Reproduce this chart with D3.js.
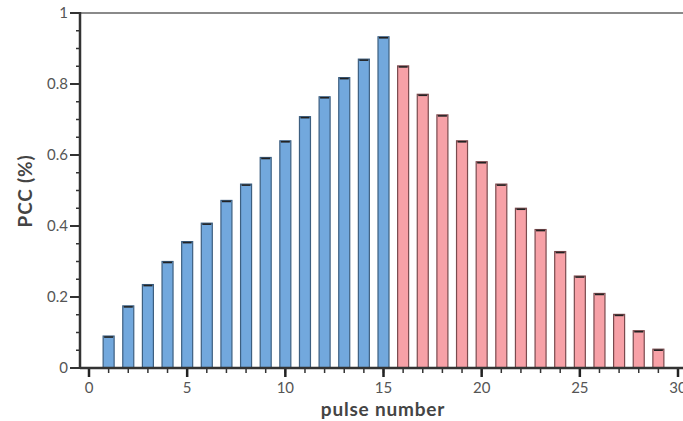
<!DOCTYPE html>
<html>
<head>
<meta charset="utf-8">
<script src="https://cdn.jsdelivr.net/npm/d3@7"></script>
<style>
  body { margin: 0; background: #fff; }
  svg text { font-family: "Lato", "DejaVu Sans", sans-serif; }
</style>
</head>
<body>
<svg id="chart" width="683" height="421"></svg>
<script>
// pulse numbers 1..29 and measured PCC
var pulses = [1, 2, 3, 4, 5, 6, 7, 8, 9, 10, 11, 12, 13, 14, 15,
              16, 17, 18, 19, 20, 21, 22, 23, 24, 25, 26, 27, 28, 29];
var pcc = [0.09, 0.175, 0.235, 0.30, 0.356, 0.408, 0.472, 0.518, 0.593, 0.64,
           0.708, 0.764, 0.818, 0.87, 0.933,
           0.851, 0.771, 0.713, 0.64, 0.581, 0.518, 0.45, 0.39, 0.328, 0.259,
           0.21, 0.151, 0.105, 0.053];
var phase = ["up", "up", "up", "up", "up", "up", "up", "up", "up", "up", "up", "up", "up", "up", "up",
             "down", "down", "down", "down", "down", "down", "down", "down", "down", "down",
             "down", "down", "down", "down"];
var xTicks = [0, 5, 10, 15, 20, 25, 30];
var yTicks = [0, 0.2, 0.4, 0.6, 0.8, 1];

var svg = d3.select('#chart');
var plotLeft = 80, plotRight = 683, plotTop = 13, plotBottom = 368;

var xScale = d3.scaleLinear().domain([0, 30]).range([89, 678]);
var yScale = d3.scaleLinear().domain([0, 1]).range([plotBottom, plotTop]);

var fillColor = {up: '#72a8dd', down: '#f7a1a7'};
var strokeColor = {up: '#3d5f80', down: '#7a4a4e'};
var barW = 11;

// frame: top line
svg.append('line')
    .attr('x1', plotLeft).attr('x2', plotRight)
    .attr('y1', plotTop).attr('y2', plotTop)
    .attr('stroke', '#8a8a8a').attr('stroke-width', 2);

// bars
var data = pulses.map(function (p, i) { return {p: p, v: pcc[i], g: phase[i]}; });
svg.selectAll('rect.bar')
    .data(data)
    .enter()
    .append('rect')
    .attr('class', 'bar')
    .attr('x', function (d) { return xScale(d.p) - barW / 2; })
    .attr('y', function (d) { return yScale(d.v); })
    .attr('width', barW)
    .attr('height', function (d) { return plotBottom - yScale(d.v); })
    .attr('fill', function (d) { return fillColor[d.g]; })
    .attr('stroke', function (d) { return strokeColor[d.g]; })
    .attr('stroke-width', 1.2);

// error caps
svg.selectAll('line.cap')
    .data(data)
    .enter()
    .append('line')
    .attr('x1', function (d) { return xScale(d.p) - barW / 2 + 1; })
    .attr('x2', function (d) { return xScale(d.p) + barW / 2 - 1; })
    .attr('y1', function (d) { return yScale(d.v) + 1; })
    .attr('y2', function (d) { return yScale(d.v) + 1; })
    .attr('stroke', '#222')
    .attr('stroke-width', 1.6);

// y axis
var yMinor = d3.range(0, 1.0001, 0.05);
svg.selectAll('line.yminor')
    .data(yMinor)
    .enter()
    .append('line')
    .attr('x1', plotLeft - 4).attr('x2', plotLeft)
    .attr('y1', function (d) { return yScale(d); })
    .attr('y2', function (d) { return yScale(d); })
    .attr('stroke', '#333').attr('stroke-width', 1.5);
svg.selectAll('line.ymajor')
    .data(yTicks)
    .enter()
    .append('line')
    .attr('x1', plotLeft - 10).attr('x2', plotLeft)
    .attr('y1', function (d) { return yScale(d); })
    .attr('y2', function (d) { return yScale(d); })
    .attr('stroke', '#333').attr('stroke-width', 2);
svg.selectAll('text.ylab')
    .data(yTicks)
    .enter()
    .append('text')
    .attr('x', plotLeft - 12)
    .attr('y', function (d) { return yScale(d); })
    .attr('dy', '0.35em')
    .attr('text-anchor', 'end')
    .attr('font-size', 15)
    .attr('fill', '#555')
    .text(function (d) { return d3.format('~g')(d); });

svg.append('line')
    .attr('x1', plotLeft).attr('x2', plotLeft)
    .attr('y1', plotTop - 1).attr('y2', plotBottom + 1)
    .attr('stroke', '#333').attr('stroke-width', 2.5);

// x axis
var xMinor = d3.range(0, 31, 1);
svg.selectAll('line.xminor')
    .data(xMinor)
    .enter()
    .append('line')
    .attr('x1', function (d) { return xScale(d); })
    .attr('x2', function (d) { return xScale(d); })
    .attr('y1', plotBottom).attr('y2', plotBottom + 5)
    .attr('stroke', '#333').attr('stroke-width', 1.5);
svg.selectAll('line.xmajor')
    .data(xTicks)
    .enter()
    .append('line')
    .attr('x1', function (d) { return xScale(d); })
    .attr('x2', function (d) { return xScale(d); })
    .attr('y1', plotBottom).attr('y2', plotBottom + 9)
    .attr('stroke', '#222').attr('stroke-width', 2.5);
svg.selectAll('text.xlab')
    .data(xTicks)
    .enter()
    .append('text')
    .attr('x', function (d) { return xScale(d); })
    .attr('y', plotBottom + 20)
    .attr('dy', '0.35em')
    .attr('text-anchor', 'middle')
    .attr('font-size', 15)
    .attr('fill', '#555')
    .text(function (d) { return d; });

svg.append('line')
    .attr('x1', plotLeft).attr('x2', plotRight)
    .attr('y1', plotBottom).attr('y2', plotBottom)
    .attr('stroke', '#333').attr('stroke-width', 2.5);

// axis titles
svg.append('text')
    .attr('x', 383).attr('y', 409)
    .attr('dy', '0.35em')
    .attr('text-anchor', 'middle')
    .attr('font-size', 19)
    .attr('font-weight', 'bold')
    .attr('letter-spacing', 0.8)
    .attr('fill', '#444')
    .text('pulse number');

svg.append('text')
    .attr('transform', 'translate(25,191) rotate(-90)')
    .attr('dy', '0.35em')
    .attr('text-anchor', 'middle')
    .attr('font-size', 19)
    .attr('font-weight', 'bold')
    .attr('letter-spacing', 0.8)
    .attr('fill', '#444')
    .text('PCC (%)');
</script>
</body>
</html>
